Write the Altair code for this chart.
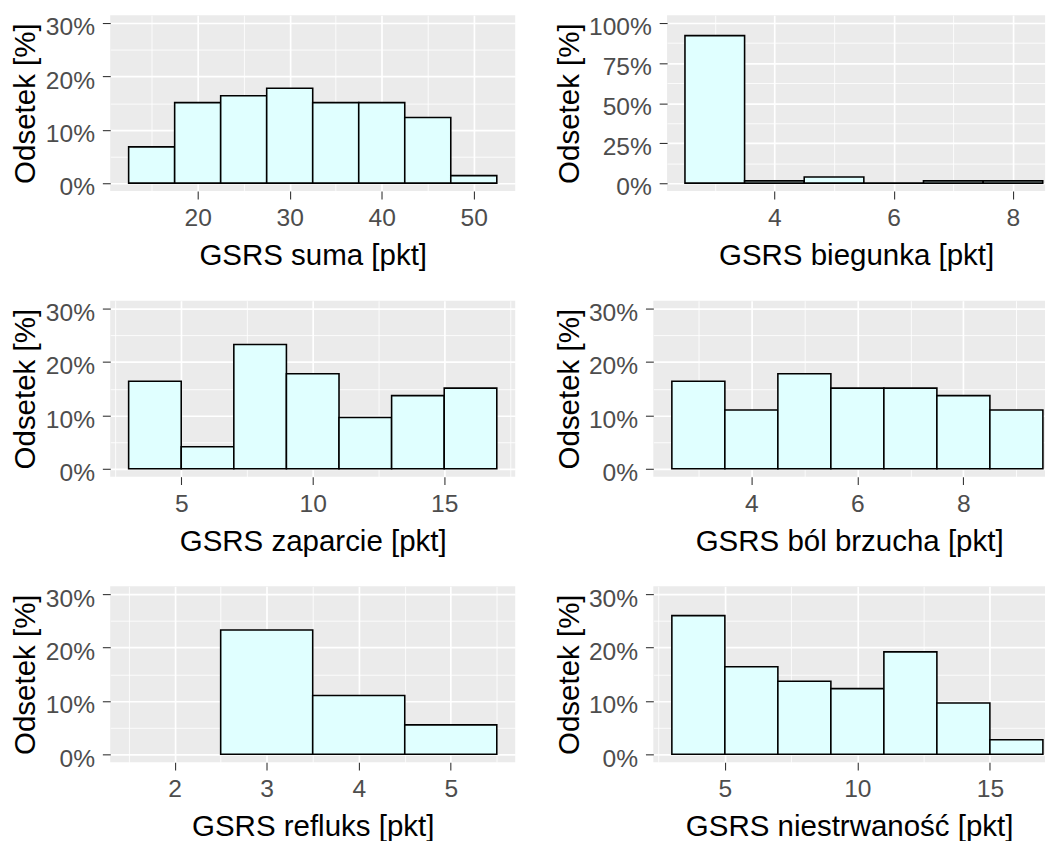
import altair as alt
import pandas as pd

FONT = "Liberation Sans"

# ---- data (percent of respondents per bin) ----
suma_edges = [12.5, 17.5, 22.5, 27.5, 32.5, 37.5, 42.5, 47.5, 52.5]
suma_pct = [6.8, 15.1, 16.4, 17.8, 15.1, 15.1, 12.3, 1.4]

biegunka_edges = [2.5, 3.5, 4.5, 5.5, 6.5, 7.5, 8.5]
biegunka_pct = [92.2, 1.4, 3.8, 0.0, 1.4, 1.4]

zaparcie_edges = [3, 5, 7, 9, 11, 13, 15, 17]
zaparcie_pct = [16.4, 4.1, 23.3, 17.8, 9.6, 13.7, 15.1]

bol_edges = [2.5, 3.5, 4.5, 5.5, 6.5, 7.5, 8.5, 9.5]
bol_pct = [16.4, 11.0, 17.8, 15.1, 15.1, 13.7, 11.0]

refluks_edges = [2.5, 3.5, 4.5, 5.5]
refluks_pct = [23.3, 11.0, 5.5]

niestr_edges = [3, 5, 7, 9, 11, 13, 15, 17]
niestr_pct = [26.0, 16.4, 13.7, 12.3, 19.2, 9.6, 2.7]

# tick / grid values
x_major_suma, x_minor_suma = [20, 30, 40, 50], [15, 25, 35, 45]
x_major_bieg, x_minor_bieg = [4, 6, 8], [3, 5, 7]
x_major_zap, x_minor_zap = [5, 10, 15], [2.5, 7.5, 12.5, 17.5]
x_major_bol, x_minor_bol = [4, 6, 8], [3, 5, 7, 9]
x_major_ref, x_minor_ref = [2, 3, 4, 5], [1.5, 2.5, 3.5, 4.5, 5.5]
x_major_nie, x_minor_nie = [5, 10, 15], [2.5, 7.5, 12.5]

y_major_30, y_minor_30 = [0, 10, 20, 30], [5, 15, 25]
y_major_100, y_minor_100 = [0, 25, 50, 75, 100], [12.5, 37.5, 62.5, 87.5]

Y_TITLE = "Odsetek [%]"
H = 179


def panel(edges, pct, title, xdom, xmaj, xmin, ydom, ymaj, ymin, width):
    df = pd.DataFrame({"x0": edges[:-1], "x1": edges[1:], "pct": pct})
    xt = f"indexof({xmaj}, datum.value) >= 0"
    yt = f"indexof({ymaj}, datum.value) >= 0"
    x_axis = alt.Axis(
        values=sorted(xmaj + xmin),
        title=title,
        format="~g",
        labelExpr=f"{xt} ? datum.label : ''",
        gridWidth={"condition": {"test": xt, "value": 1.7}, "value": 0.85},
        tickOpacity={"condition": {"test": xt, "value": 1}, "value": 0},
        labelOverlap=False,
        labelPadding=7,
        titlePadding=11,
    )
    y_axis = alt.Axis(
        values=sorted(ymaj + ymin),
        title=Y_TITLE,
        labelExpr=f"{yt} ? datum.value + '%' : ''",
        gridWidth={"condition": {"test": yt, "value": 1.7}, "value": 0.85},
        tickOpacity={"condition": {"test": yt, "value": 1}, "value": 0},
        labelOverlap=False,
        labelPadding=8,
        labelOffset=4,
        titlePadding=4.5,
    )
    return (
        alt.Chart(df)
        .mark_bar(fill="#E0FFFF", stroke="black", strokeWidth=1.6)
        .encode(
            x=alt.X("x0:Q", scale=alt.Scale(domain=xdom, nice=False, zero=False), axis=x_axis),
            x2="x1:Q",
            y=alt.Y("pct:Q", scale=alt.Scale(domain=ydom, nice=False, zero=False), axis=y_axis),
            y2=alt.datum(0),
        )
        .properties(width=width, height=H)
    )


Y30 = [-1.5, 31.5]
Y100 = [-5, 105]

p1 = panel(suma_edges, suma_pct, "GSRS suma [pkt]", [10.5, 54.5], x_major_suma, x_minor_suma, Y30, y_major_30, y_minor_30, 412)
p2 = panel(biegunka_edges, biegunka_pct, "GSRS biegunka [pkt]", [2.2, 8.54], x_major_bieg, x_minor_bieg, Y100, y_major_100, y_minor_100, 384.6)
p3 = panel(zaparcie_edges, zaparcie_pct, "GSRS zaparcie [pkt]", [2.3, 17.7], x_major_zap, x_minor_zap, Y30, y_major_30, y_minor_30, 412)
p4 = panel(bol_edges, bol_pct, "GSRS ból brzucha [pkt]", [2.15, 9.54], x_major_bol, x_minor_bol, Y30, y_major_30, y_minor_30, 398.5)
p5 = panel(refluks_edges, refluks_pct, "GSRS refluks [pkt]", [1.3, 5.7], x_major_ref, x_minor_ref, Y30, y_major_30, y_minor_30, 412)
p6 = panel(niestr_edges, niestr_pct, "GSRS niestrwaność [pkt]", [2.3, 17.08], x_major_nie, x_minor_nie, Y30, y_major_30, y_minor_30, 398.5)

row1 = alt.hconcat(p1, p2, spacing=39.5)
row2 = alt.hconcat(p3, p4, spacing=39.5)
row3 = alt.hconcat(p5, p6, spacing=39.5)

chart = (
    alt.vconcat(row1, row2, row3, spacing=30.5)
    .properties(padding={"left": 3, "top": 0, "right": 0, "bottom": 0})
    .configure_view(fill="#EBEBEB", strokeWidth=0)
    .configure_axis(
        labelFont=FONT,
        labelFontSize=25,
        labelColor="#4D4D4D",
        titleFont=FONT,
        titleFontSize=30,
        titleFontWeight="normal",
        titleColor="black",
        tickColor="#333333",
        tickSize=8,
        tickWidth=1.1,
        domain=False,
        grid=True,
        gridColor="white",
    )
)

chart.save("out.html", embed_options={"renderer": "svg", "actions": False})
